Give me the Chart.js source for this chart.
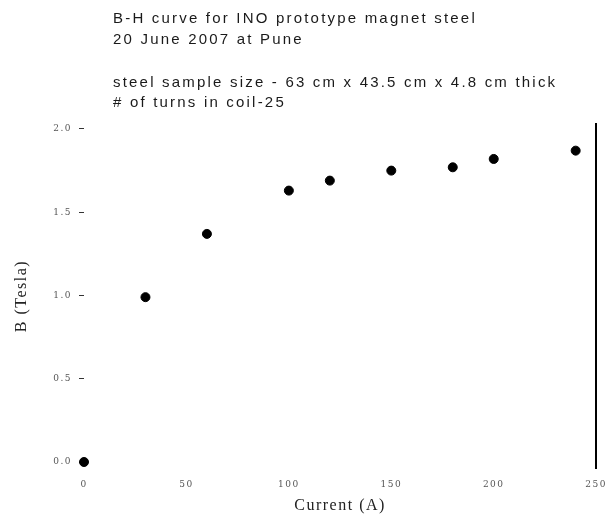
<!DOCTYPE html>
<html>
<head>
<meta charset="utf-8">
<script src="https://cdn.jsdelivr.net/npm/chart.js@4.4.1/dist/chart.umd.min.js"></script>
<style>
    html, body { margin: 0; padding: 0; background: #fff; }
    #wrap { width: 610px; height: 523px; position: relative; }
</style>
</head>
<body>
<div id="wrap"><canvas id="bhChart"></canvas></div>
<script>
// Dữ liệu
const currentA = [0, 30, 60, 100, 120, 150, 180, 200, 240];
const fieldT   = [0.0, 0.99, 1.37, 1.63, 1.69, 1.75, 1.77, 1.82, 1.87];
const xTicks   = [0, 50, 100, 150, 200, 250];
const yTicks   = [0.0, 0.5, 1.0, 1.5, 2.0];
const titleLines = [
    'B-H curve for INO prototype magnet steel',
    '20 June 2007 at Pune',
    '',
    'steel sample size - 63 cm x 43.5 cm x 4.8 cm thick',
    '# of turns in coil-25'
];

// Giãn chữ cho giống ảnh gốc
const spacingPlugin = {
    id: 'spacing',
    beforeLayout(chart) { chart.ctx.letterSpacing = '1.5px'; },
    beforeDraw(chart) { chart.ctx.letterSpacing = '1.5px'; }
};

// Vẽ tiêu đề canh trái
const titlePlugin = {
    id: 'leftTitle',
    afterDraw(chart) {
        const ctx = chart.ctx;
        ctx.save();
        ctx.fillStyle = '#1a1a1a';
        ctx.font = '15px "Liberation Sans", Arial, sans-serif';
        ctx.letterSpacing = '2.2px';
        ctx.textBaseline = 'middle';
        const ys = [19, 40, 61, 83, 103];
        titleLines.forEach((t, i) => { if (t) ctx.fillText(t, 113, ys[i]); });
        ctx.restore();
    }
};

const tickFont = { family: '"DejaVu Serif", serif', size: 9 };
const axisTitleFont = { family: '"Liberation Serif", "DejaVu Serif", serif', size: 16 };

new Chart(document.getElementById('bhChart'), {
    type: 'scatter',
    data: {
        datasets: [{
            label: 'B-H',
            data: currentA.map((x, i) => ({ x, y: fieldT[i] })),
            backgroundColor: '#000',
            borderColor: '#000',
            pointRadius: 4.5,
            pointHoverRadius: 4.5,
            clip: false
        }]
    },
    options: {
        responsive: true,
        maintainAspectRatio: false,
        animation: false,
        layout: { padding: { top: 124, left: 8, right: 12, bottom: 8 } },
        plugins: { legend: { display: false }, tooltip: { enabled: false } },
        scales: {
            x: {
                type: 'linear',
                min: 0,
                max: 250,
                afterBuildTicks: s => { s.ticks = xTicks.map(v => ({ value: v })); },
                grid: { display: false },
                border: { display: false },
                ticks: { color: '#555', font: tickFont, padding: 3 },
                title: { display: true, text: 'Current (A)', color: '#222', font: axisTitleFont, padding: { top: 3, bottom: 0 } }
            },
            y: {
                type: 'linear',
                min: -0.036,
                max: 2.03,
                afterBuildTicks: s => { s.ticks = yTicks.map(v => ({ value: v })); },
                afterFit: s => { s.width = 76; },
                grid: { drawOnChartArea: false, tickLength: 5, color: '#333' },
                border: { display: false },
                ticks: { color: '#555', font: tickFont, padding: 7, callback: v => v.toFixed(1) },
                title: { display: true, text: 'B (Tesla)', color: '#222', font: axisTitleFont }
            },
            y2: {
                type: 'linear',
                position: 'right',
                min: -0.036,
                max: 2.03,
                afterFit: s => { s.width = 0; },
                grid: { display: false },
                ticks: { display: false },
                border: { display: true, color: '#000', width: 2 }
            }
        }
    },
    plugins: [spacingPlugin, titlePlugin]
});
</script>
</body>
</html>
